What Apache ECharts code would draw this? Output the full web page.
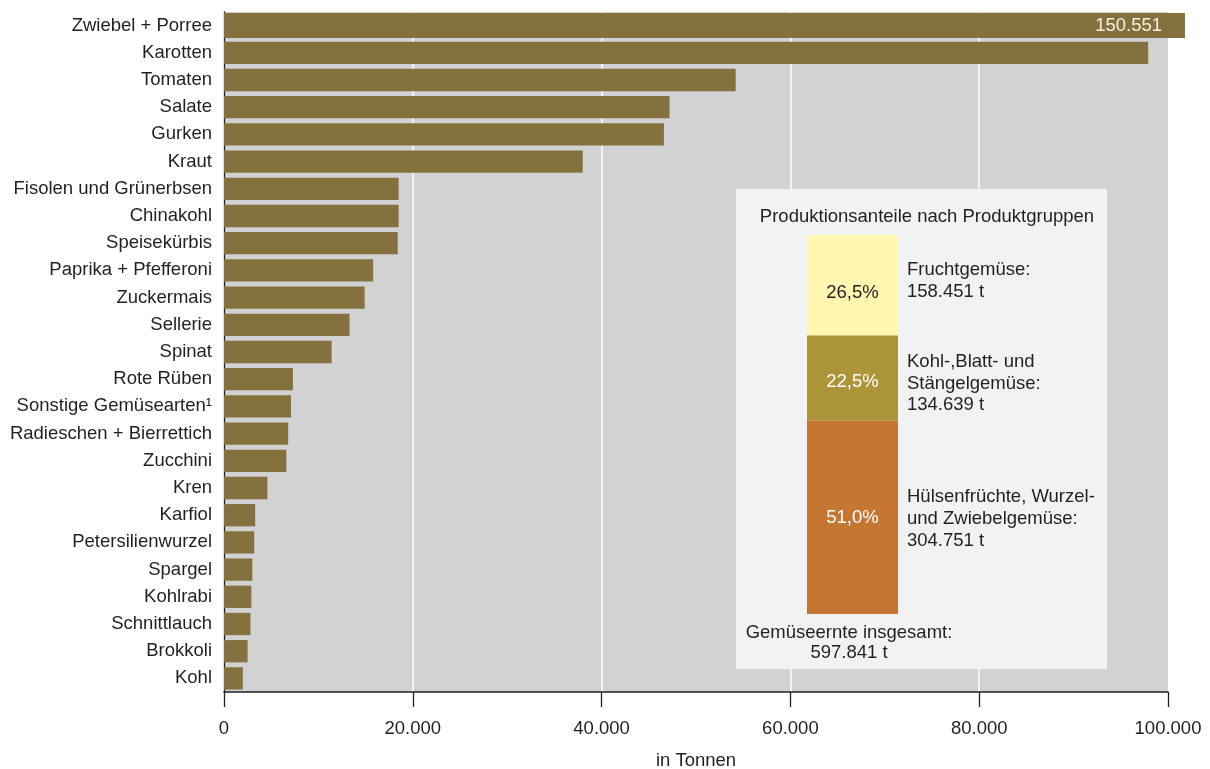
<!DOCTYPE html>
<html>
<head>
<meta charset="utf-8">
<script src="https://cdn.jsdelivr.net/npm/echarts@6/dist/echarts.min.js"></script>
<style>
  html, body { margin: 0; padding: 0; background: #ffffff; }
  #chart { width: 1210px; height: 769px; }
</style>
</head>
<body>
<div id="chart"></div>
<script>
// Gemüseernte nach Gemüsearten (in Tonnen)
const categories = [
  'Zwiebel + Porree', 'Karotten', 'Tomaten', 'Salate', 'Gurken', 'Kraut',
  'Fisolen und Grünerbsen', 'Chinakohl', 'Speisekürbis', 'Paprika + Pfefferoni',
  'Zuckermais', 'Sellerie', 'Spinat', 'Rote Rüben', 'Sonstige Gemüsearten¹',
  'Radieschen + Bierrettich', 'Zucchini', 'Kren', 'Karfiol', 'Petersilienwurzel',
  'Spargel', 'Kohlrabi', 'Schnittlauch', 'Brokkoli', 'Kohl'
];
const tonnes = [
  150551, 97900, 54200, 47200, 46600, 38000,
  18500, 18500, 18400, 15800,
  14900, 13300, 11400, 7300, 7100,
  6800, 6600, 4600, 3300, 3200,
  3000, 2900, 2800, 2500, 2000
];

// Produktionsanteile nach Produktgruppen
const groupNames = ['Fruchtgemüse', 'Kohl-,Blatt- und\nStängelgemüse', 'Hülsenfrüchte, Wurzel-\nund Zwiebelgemüse'];
const groupTonnes = [158451, 134639, 304751];

const axisMax = 100000;
const axisStep = 20000;

// Layout and colours
const FONT = 'Liberation Sans, Arial, Helvetica, sans-serif';
const FS = 18.5;
const TEXT = '#231f20';
const BAR = '#85713d';
const PLOT_BG = '#d1d2d4';
const PANEL_BG = '#f1f2f4';
const GROUP_COLORS = ['#fef6b1', '#ab9538', '#c47632'];
const GROUP_LABEL_COLORS = [TEXT, '#ffffff', '#ffffff'];
const PCT_SHIFT = [8, 4, 1];           // vertical nudge of the percentage labels
const CAPTION_SHIFT = [-4.5, 5.5, 1.5]; // vertical nudge of the group captions
const PLOT = { left: 224, right: 1168, top: 12, bottom: 692 };
const BREAK_RIGHT = 1185;     // the over-long first bar runs past the axis end
const W = 1210, H = 769;

const fmt = v => String(v).replace(/\B(?=(\d{3})+(?!\d))/g, '.');
const total = groupTonnes.reduce((a, b) => a + b, 0);
const pct = v => (v / total * 100).toFixed(1).replace('.', ',') + '%';

// value at the right end of the extended strip, same px-per-tonne as the main axis
const breakMax = axisMax * (BREAK_RIGHT - PLOT.left) / (PLOT.right - PLOT.left);

const series = [
  {
    type: 'bar', xAxisIndex: 0, yAxisIndex: 0,
    data: tonnes, barWidth: '82%',
    itemStyle: { color: BAR }, silent: true, z: 2
  },
  {
    type: 'bar', xAxisIndex: 1, yAxisIndex: 1,
    data: tonnes.map((v, i) => (i === 0 ? v : '-')), barWidth: '92%',
    itemStyle: { color: BAR }, silent: true, z: 3,
    label: {
      show: true, position: 'insideRight', distance: 23,
      color: '#f4f0e2', fontSize: FS, fontFamily: FONT,
      formatter: p => fmt(p.value)
    }
  }
];

groupTonnes.forEach((v, i) => {
  series.push({
    type: 'bar', xAxisIndex: 2, yAxisIndex: 2, stack: 'share',
    data: [v], barWidth: '100%', barGap: '-100%',
    itemStyle: { color: GROUP_COLORS[i] }, silent: true, z: 5,
    label: {
      show: true, position: 'inside', color: GROUP_LABEL_COLORS[i],
      offset: [0, PCT_SHIFT[i]],
      fontSize: FS, fontFamily: FONT, formatter: p => pct(p.value)
    }
  });
});
groupTonnes.forEach((v, i) => {
  series.push({
    type: 'bar', xAxisIndex: 2, yAxisIndex: 2, stack: 'caption',
    data: [v], barWidth: '100%', barGap: '-100%',
    itemStyle: { color: 'rgba(0,0,0,0)' }, silent: true, z: 5,
    label: {
      show: true, position: 'right', distance: 9, color: TEXT,
      offset: [0, CAPTION_SHIFT[i]],
      fontSize: FS, lineHeight: 21.7, fontFamily: FONT, align: 'left',
      formatter: () => groupNames[i] + ':\n' + fmt(v) + ' t'
    }
  });
});

const option = {
  animation: false,
  backgroundColor: '#ffffff',
  textStyle: { fontFamily: FONT, color: TEXT },
  grid: [
    { left: PLOT.left, right: W - PLOT.right, top: PLOT.top, bottom: H - PLOT.bottom,
      outerBoundsMode: 'none', containLabel: false,
      show: true, backgroundColor: PLOT_BG, borderWidth: 0 },
    { left: PLOT.left, right: W - BREAK_RIGHT, top: PLOT.top, bottom: H - PLOT.bottom,
      outerBoundsMode: 'none', containLabel: false },
    { left: 807, top: 235, width: 91, height: 379, outerBoundsMode: 'none', containLabel: false },
    { left: 736, top: 189, width: 371, height: 480, outerBoundsMode: 'none', containLabel: false,
      show: true, backgroundColor: PANEL_BG, borderWidth: 0, z: 4 }
  ],
  xAxis: [
    {
      gridIndex: 0, type: 'value', min: 0, max: axisMax, interval: axisStep,
      axisLine: { show: true, lineStyle: { color: TEXT, width: 1.5 } },
      axisTick: { show: true, length: 15, lineStyle: { color: TEXT, width: 1.3 } },
      axisLabel: { margin: 27, fontSize: FS, color: TEXT, fontFamily: FONT, formatter: v => fmt(v) },
      splitLine: { show: true, showMinLine: false, showMaxLine: false,
        lineStyle: { color: '#ffffff', width: 1.5 } },
      name: 'in Tonnen', nameLocation: 'middle', nameGap: 59,
      nameTextStyle: { fontSize: FS, color: TEXT, fontFamily: FONT }
    },
    { gridIndex: 1, type: 'value', min: 0, max: breakMax, show: false },
    { gridIndex: 2, type: 'category', data: ['Anteil'], show: false }
  ],
  yAxis: [
    {
      gridIndex: 0, type: 'category', data: categories, inverse: true,
      axisLine: { show: true, lineStyle: { color: TEXT, width: 1.3 } },
      axisTick: { show: false },
      axisLabel: { fontSize: FS, color: TEXT, margin: 12, fontFamily: FONT },
      splitLine: { show: false }
    },
    { gridIndex: 1, type: 'category', data: categories, inverse: true, show: false },
    { gridIndex: 2, type: 'value', min: 0, max: total, inverse: true, show: false }
  ],
  graphic: [
    {
      type: 'text', x: 927, y: 217, z: 10, silent: true,
      style: { text: 'Produktionsanteile nach Produktgruppen', fontSize: FS, fontFamily: FONT,
        fill: TEXT, align: 'center', verticalAlign: 'middle' }
    },
    {
      type: 'text', x: 849, y: 643, z: 10, silent: true,
      style: { text: 'Gemüseernte insgesamt:\n' + fmt(total) + ' t', fontSize: FS, fontFamily: FONT,
        lineHeight: 20, fill: TEXT, align: 'center', verticalAlign: 'middle' }
    }
  ],
  series: series
};

const chart = echarts.init(document.getElementById('chart'), null, { renderer: 'canvas' });
chart.setOption(option);
</script>
</body>
</html>
